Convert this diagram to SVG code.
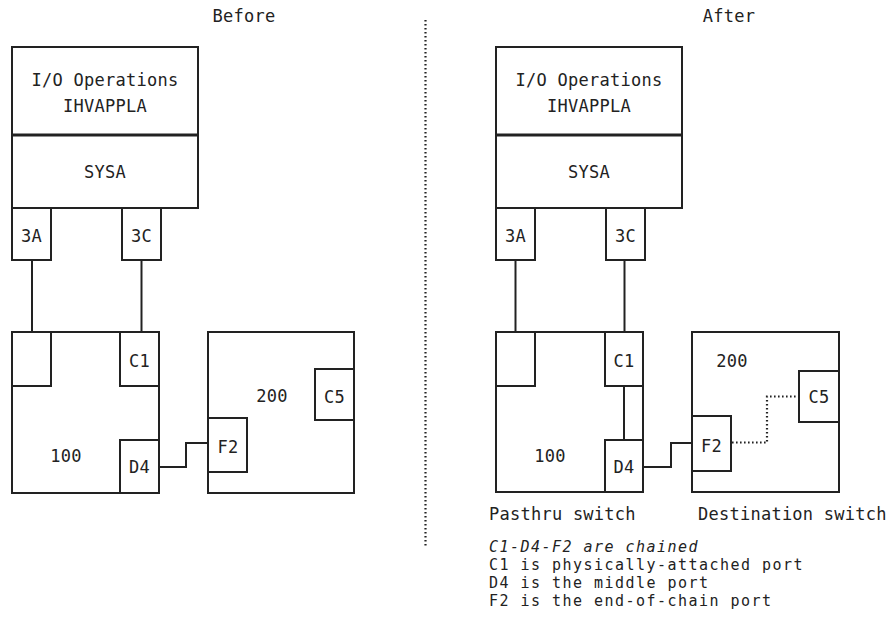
<svg xmlns="http://www.w3.org/2000/svg" width="894" height="622" viewBox="0 0 894 622">
<style>
  .box { fill: #fff; stroke: #222; stroke-width: 2; }
  .div { stroke: #222; stroke-width: 3; fill: none; }
  .ln { stroke: #222; stroke-width: 2; fill: none; }
  .dot { stroke: #222; stroke-width: 2.2; fill: none; stroke-dasharray: 1.6 2.4; }
  text { font-family: "DejaVu Sans Mono", "Liberation Mono", monospace; font-size: 17px; fill: #222; letter-spacing: 0.25px; }
  .c { text-anchor: middle; }
  .it { font-style: italic; }
  .n { font-size: 15px; letter-spacing: 1.47px; }
</style>
<rect width="894" height="622" fill="#fff"/>

<text class="c" x="244" y="22">Before</text>
<text class="c" x="729" y="22">After</text>

<g id="before-host">
  <rect class="box" x="12" y="47" width="186" height="161"/>
  <path class="div" d="M12 135 H198"/>
  <text class="c" x="105" y="86">I/O Operations</text>
  <text class="c" x="105" y="112">IHVAPPLA</text>
  <text class="c" x="105" y="178">SYSA</text>
</g>
<g id="before-3A">
  <rect class="box" x="12" y="208" width="39" height="52"/>
  <text class="c" x="31.5" y="242">3A</text>
</g>
<g id="before-3C">
  <rect class="box" x="122" y="208" width="39" height="52"/>
  <text class="c" x="141.5" y="242">3C</text>
</g>
<g id="before-100">
  <rect class="box" x="12" y="332" width="147" height="161"/>
  <text class="c" x="66" y="462">100</text>
  <rect class="box" x="12" y="332" width="39" height="54"/>
  <rect class="box" x="120" y="332" width="39" height="54"/>
  <text class="c" x="139.5" y="367">C1</text>
  <rect class="box" x="120" y="440" width="39" height="53"/>
  <text class="c" x="139.5" y="473">D4</text>
</g>
<g id="before-200">
  <rect class="box" x="208" y="332" width="146" height="161"/>
  <text class="c" x="272" y="402">200</text>
  <rect class="box" x="208" y="418" width="39" height="54"/>
  <text class="c" x="228" y="453">F2</text>
  <rect class="box" x="315" y="369" width="39" height="51"/>
  <text class="c" x="334.5" y="403">C5</text>
</g>

<g id="after-host">
  <rect class="box" x="496" y="47" width="186" height="161"/>
  <path class="div" d="M496 135 H682"/>
  <text class="c" x="589" y="86">I/O Operations</text>
  <text class="c" x="589" y="112">IHVAPPLA</text>
  <text class="c" x="589" y="178">SYSA</text>
</g>
<g id="after-3A">
  <rect class="box" x="496" y="208" width="39" height="52"/>
  <text class="c" x="515.5" y="242">3A</text>
</g>
<g id="after-3C">
  <rect class="box" x="606" y="208" width="39" height="52"/>
  <text class="c" x="625.5" y="242">3C</text>
</g>
<g id="after-100">
  <rect class="box" x="496" y="332" width="147" height="160"/>
  <text class="c" x="550" y="462">100</text>
  <rect class="box" x="496" y="332" width="39" height="54"/>
  <rect class="box" x="605" y="332" width="38" height="54"/>
  <text class="c" x="624" y="367">C1</text>
  <rect class="box" x="605" y="440" width="38" height="52"/>
  <text class="c" x="624" y="473">D4</text>
</g>
<g id="after-200">
  <rect class="box" x="692" y="332" width="147" height="160"/>
  <text class="c" x="732" y="367">200</text>
  <rect class="box" x="692" y="416" width="39" height="55"/>
  <text class="c" x="711.5" y="452">F2</text>
  <rect class="box" x="799" y="371" width="40" height="51"/>
  <text class="c" x="819" y="403">C5</text>
</g>

<g id="connectors">
  <path class="ln" d="M32 260 V332"/>
  <path class="ln" d="M141.5 260 V332"/>
  <path class="ln" d="M159 467 H186 V443 H208"/>
  <path class="ln" d="M515.5 260 V332"/>
  <path class="ln" d="M624.5 260 V332"/>
  <path class="ln" d="M624 387 V439"/>
  <path class="ln" d="M643 467 H671 V443 H692"/>
  <path class="dot" d="M732 442.5 H767 V396.5 H798"/>
  <path class="dot" d="M425.5 20 V547"/>
</g>

<g id="notes">
  <text x="489" y="520">Pasthru switch</text>
  <text x="698" y="520">Destination switch</text>
  <text class="n it" x="489" y="552">C1-D4-F2 are chained</text>
  <text class="n" x="489" y="570">C1 is physically-attached port</text>
  <text class="n" x="489" y="588">D4 is the middle port</text>
  <text class="n" x="489" y="606">F2 is the end-of-chain port</text>
</g>
</svg>
